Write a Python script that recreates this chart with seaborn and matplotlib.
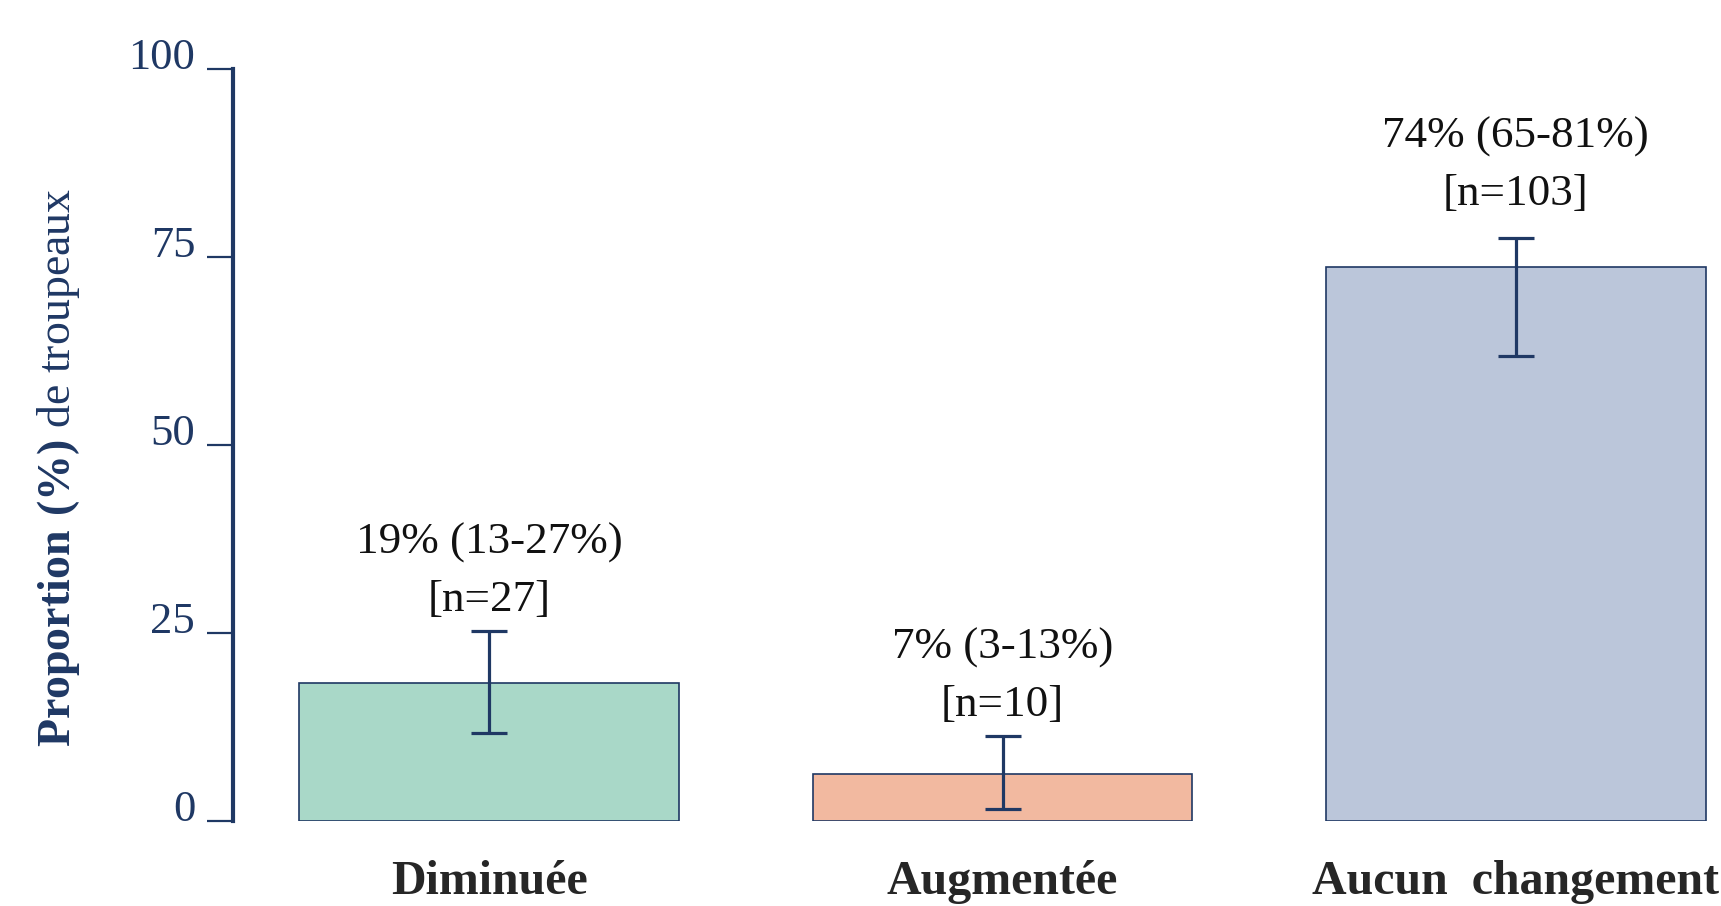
import seaborn as sns
import matplotlib.pyplot as plt
import pandas as pd

categories = ["Diminuée", "Augmentée", "Aucun  changement"]
proportion = [18.4, 6.3, 73.7]
ci_low = [11.8, 1.7, 61.9]
ci_high = [25.3, 11.4, 77.5]
label_hi = [27, 13, 81]
labels = ["19% (13-27%)\n[n=27]", "7% (3-13%)\n[n=10]", "74% (65-81%)\n[n=103]"]
colors = ["#A9D8C8", "#F2B9A0", "#BBC6DA"]

navy = "#1F3864"

sns.set_style("white")
plt.rcParams['font.family'] = ['Liberation Serif', 'DejaVu Serif']
plt.rcParams['mathtext.fontset'] = 'custom'
plt.rcParams['mathtext.rm'] = 'Liberation Serif'
plt.rcParams['mathtext.bf'] = 'Liberation Serif:bold'

df = pd.DataFrame({"cat": categories, "val": proportion})

fig = plt.figure(figsize=(17.21, 9.06), dpi=100)
ax = fig.add_axes([0.1352, 0.0933, 0.8648, 0.8303])

sns.barplot(data=df, x="cat", y="val", hue="cat", palette=colors, legend=False,
            saturation=1, width=0.74, edgecolor=navy, linewidth=1.2,
            errorbar=None, ax=ax)

xs = range(len(categories))
lo_err = [p - l for p, l in zip(proportion, ci_low)]
hi_err = [h - p for p, h in zip(proportion, ci_high)]
ax.errorbar(xs, proportion, yerr=[lo_err, hi_err], fmt="none", ecolor=navy,
            elinewidth=2.3, capsize=13, capthick=2.3)

for x, h, txt in zip(xs, label_hi, labels):
    ax.text(x, h - 0.2, txt, ha="center", va="bottom", fontsize=32.5,
            color="#111111", linespacing=1.55, clip_on=False)

ax.set_xlim(-0.5, 2.4)
ax.set_ylim(0, 100)
ax.set_yticks([0, 25, 50, 75, 100])
ax.tick_params(axis="y", left=True, length=19, width=1.6, color=navy,
               labelcolor=navy, labelsize=32, pad=8)
for lab in ax.get_yticklabels():
    lab.set_verticalalignment("baseline")
ax.tick_params(axis="x", length=0, pad=28, labelsize=34.5)
for lab in ax.get_xticklabels():
    lab.set_fontweight("bold")

for s in ["top", "right", "bottom"]:
    ax.spines[s].set_visible(False)
ax.spines["left"].set_color(navy)
ax.spines["left"].set_linewidth(3)

ax.set_xlabel("")
ax.set_ylabel(r"$\bf{Proportion\ (\%)}$ de troupeaux", fontsize=33, color=navy)
ax.yaxis.set_label_coords(-0.101, 0.47)

fig.savefig("out.png", dpi=100)
